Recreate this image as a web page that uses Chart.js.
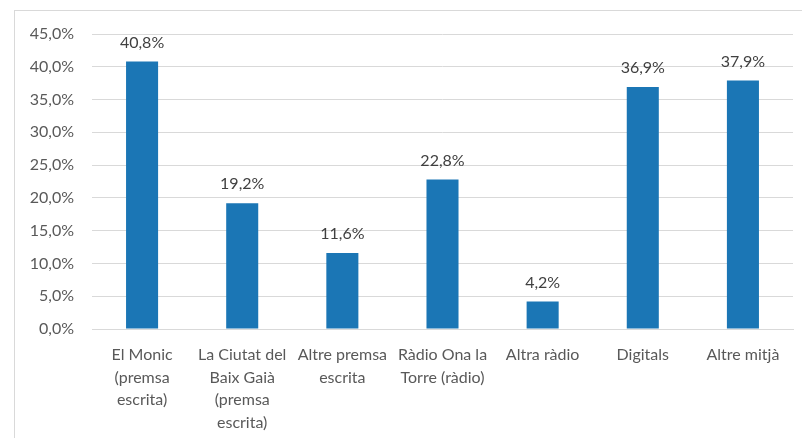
<!DOCTYPE html>
<html>
<head>
<meta charset="utf-8">
<script src="https://cdn.jsdelivr.net/npm/chart.js@4/dist/chart.umd.min.js"></script>
<style>
  html, body { margin: 0; padding: 0; background: #fff; overflow: hidden; }
  #frame { position: absolute; left: 14px; top: 10px; width: 820px; height: 460px; border: 1px solid #d9d9d9; }
  #wrap { position: absolute; left: 0; top: 0; width: 802px; height: 438px; }
</style>
</head>
<body>
<div id="frame"></div>
<div id="wrap"><canvas id="c" width="802" height="438"></canvas></div>
<script>
const categories = [
  ["El Monic", "(premsa", "escrita)"],
  ["La Ciutat del", "Baix Gaià", "(premsa", "escrita)"],
  ["Altre premsa", "escrita"],
  ["Ràdio Ona la", "Torre (ràdio)"],
  ["Altra ràdio"],
  ["Digitals"],
  ["Altre mitjà"]
];
const values = [40.8, 19.2, 11.6, 22.8, 4.2, 36.9, 37.9];
const yMin = 0, yMax = 45, yStep = 5;

const fmt = v => v.toFixed(1).replace('.', ',') + '%';
const FONT = 'Lato, "Open Sans", sans-serif';

const labelPlugin = {
  id: 'barLabels',
  afterDatasetsDraw(chart) {
    const ctx = chart.ctx;
    const meta = chart.getDatasetMeta(0);
    ctx.save();
    ctx.font = '16px ' + FONT;
    ctx.fillStyle = '#404040';
    ctx.textAlign = 'center';
    ctx.textBaseline = 'middle';
    meta.data.forEach((bar, i) => {
      ctx.fillText(fmt(values[i]), bar.x, bar.y - 19);
    });
    ctx.restore();
  }
};

new Chart(document.getElementById('c'), {
  type: 'bar',
  data: {
    labels: categories,
    datasets: [{
      data: values,
      backgroundColor: '#1b76b5',
      borderWidth: 0,
      categoryPercentage: 1,
      barPercentage: 0.32
    }]
  },
  options: {
    responsive: false,
    animation: false,
    devicePixelRatio: 1,
    layout: { padding: { left: 0, right: 9, top: 34, bottom: 0 } },
    plugins: { legend: { display: false }, tooltip: { enabled: false } },
    scales: {
      y: {
        min: yMin, max: yMax,
        ticks: {
          stepSize: yStep,
          callback: v => fmt(v),
          color: '#595959',
          font: { size: 16, family: FONT },
          padding: 18
        },
        grid: { color: '#d9d9d9', drawTicks: false, lineWidth: 1 },
        border: { display: false },
        afterFit(scale) { scale.width = 92; }
      },
      x: {
        ticks: {
          color: '#595959',
          font: { size: 16, family: FONT, lineHeight: 1.4 },
          padding: 15,
          maxRotation: 0,
          autoSkip: false
        },
        grid: { display: false, drawTicks: false },
        border: { display: true, color: '#d9d9d9' },
        afterFit(scale) { scale.height = 109; }
      }
    }
  },
  plugins: [labelPlugin]
});
</script>
</body>
</html>
